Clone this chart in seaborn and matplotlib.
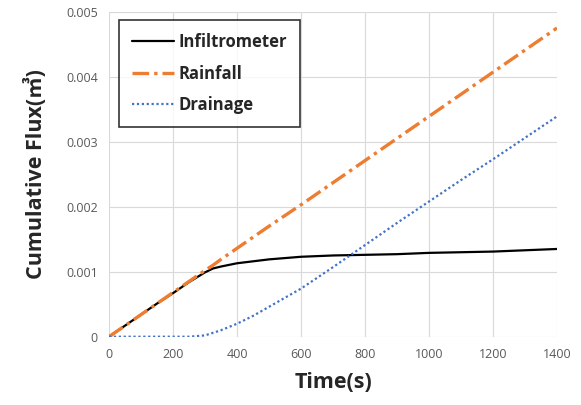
import matplotlib
matplotlib.use("Agg")
import matplotlib.pyplot as plt
import seaborn as sns
import pandas as pd

time = [0, 50, 100, 150, 200, 250, 300, 325, 350, 400, 450, 500, 600, 700, 800, 900, 1000, 1100, 1200, 1300, 1400]
infiltrometer = [0, 0.00017, 0.00034, 0.00051, 0.00067, 0.00084, 0.00099, 0.00105, 0.00108, 0.00113, 0.00116, 0.00119,
                 0.00123, 0.00125, 0.00126, 0.00127, 0.00129, 0.00130, 0.00131, 0.00133, 0.00135]
rainfall = [0, 0.00017, 0.00034, 0.00051, 0.00068, 0.00085, 0.00102, 0.00110, 0.00119, 0.00136, 0.00153, 0.00170,
            0.00203, 0.00237, 0.00271, 0.00305, 0.00339, 0.00373, 0.00407, 0.00441, 0.00475]
drainage = [0, 0, 0, 0, 0, 0, 0.00002, 0.00006, 0.00010, 0.00020, 0.00032, 0.00046,
            0.00074, 0.00107, 0.00141, 0.00175, 0.00208, 0.00241, 0.00273, 0.00306, 0.00339]
series_names = ["Infiltrometer", "Rainfall", "Drainage"]
x_ticks = [0, 200, 400, 600, 800, 1000, 1200, 1400]
y_ticks = [0, 0.001, 0.002, 0.003, 0.004, 0.005]
y_tick_labels = ["0", "0.001", "0.002", "0.003", "0.004", "0.005"]

df = pd.DataFrame({"time": time * 3,
                   "value": infiltrometer + rainfall + drainage,
                   "series": [series_names[0]] * len(time) + [series_names[1]] * len(time) + [series_names[2]] * len(time)})

sns.set_style("white")
plt.rcParams["font.family"] = ["Open Sans", "Noto Sans CJK KR", "DejaVu Sans"]

fig = plt.figure(figsize=(5.81, 4.05), dpi=100)
ax = fig.add_axes([0.1876, 0.1686, 0.7711, 0.8024])

palette = {"Infiltrometer": "#000000", "Rainfall": "#ED7D31", "Drainage": "#4472C4"}
styles = {"Infiltrometer": dict(lw=1.6, ls="-"),
          "Rainfall": dict(lw=2.4, ls=(0, (5, 1.5, 1, 1.5))),
          "Drainage": dict(lw=1.6, ls=(0, (1, 1.2)))}
for name in series_names:
    sub = df[df["series"] == name]
    sns.lineplot(data=sub, x="time", y="value", ax=ax, color=palette[name], label=name,
                 linewidth=styles[name]["lw"], linestyle=styles[name]["ls"])

ax.set_xlim(0, 1400)
ax.set_ylim(0, 0.005)
ax.set_xticks(x_ticks)
ax.set_xticklabels([str(t) for t in x_ticks])
ax.set_yticks(y_ticks)
ax.set_yticklabels(y_tick_labels)
ax.grid(True, color="#d9d9d9", linewidth=0.8)
for s in ax.spines.values():
    s.set_visible(False)
ax.tick_params(axis="both", colors="#595959", labelsize=9, length=0, pad=8)

ax.set_xlabel("Time(s)", fontsize=15.5, fontweight="bold", labelpad=8)
ax.set_ylabel("Cumulative Flux(㎥)", fontsize=15.5, fontweight="bold", labelpad=14)

leg = ax.legend(loc="upper left", bbox_to_anchor=(0.015, 0.985), frameon=True, fancybox=False,
                edgecolor="black", fontsize=12, handlelength=2.5, labelspacing=0.8,
                borderpad=0.8, handletextpad=0.25, borderaxespad=0.2)
leg.get_frame().set_linewidth(1.2)
for t in leg.get_texts():
    t.set_fontweight("bold")

fig.savefig("out.png", dpi=100)
